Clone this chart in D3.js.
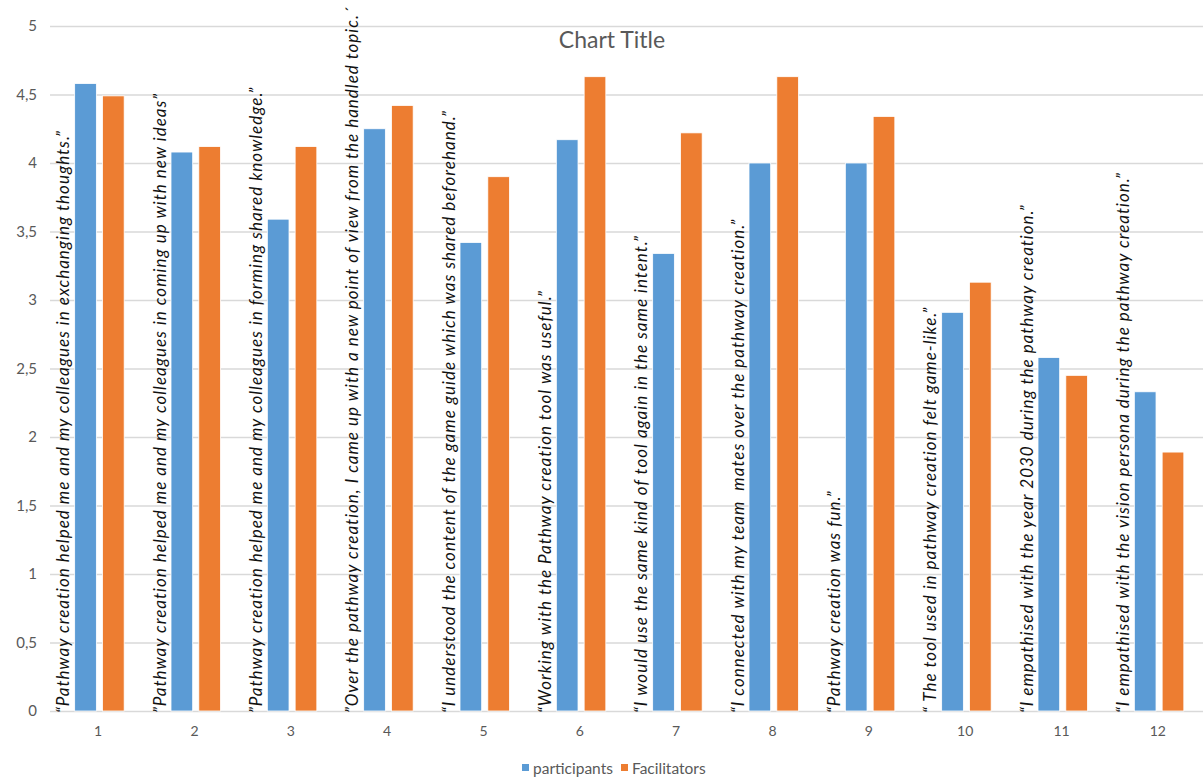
<!DOCTYPE html>
<html><head><meta charset="utf-8">
<script src="https://cdn.jsdelivr.net/npm/d3@7"></script>
<style>
html,body{margin:0;padding:0;background:#fff;}
svg{display:block;}
</style>
</head><body>
<svg id="chart" width="1203" height="778"></svg>
<script>
const categories = ["1","2","3","4","5","6","7","8","9","10","11","12"];
const statements = [
  "\u201CPathway creation helped me and my colleagues in exchanging thoughts.\u201D",
  "\u201DPathway creation helped me and my colleagues in coming up with new ideas\u201D",
  "\u201DPathway creation helped me and my colleagues in forming shared knowledge.\u201D",
  "\u201DOver the pathway creation, I came up with a new point of view from the handled topic.\u00B4",
  "\u201CI understood the content of the game guide which was shared beforehand.\u201D",
  "\u201CWorking with the Pathway creation tool was useful.\u201D",
  "\u201CI would use the same kind of tool again in the same intent.\u201D",
  "\u201CI connected with my team  mates over the pathway creation.\u201D",
  "\u201CPathway creation was fun.\u201D",
  "\u201C The tool used in pathway creation felt game-like.\u201D",
  "\u201CI empathised with the year 2030 during the pathway creation.\u201D",
  "\u201CI empathised with the vision persona during the pathway creation.\u201D"
];
const seriesNames = ["participants","Facilitators"];
const participants = [4.58,4.08,3.59,4.25,3.42,4.17,3.34,4.00,4.00,2.91,2.58,2.33];
const facilitators = [4.49,4.12,4.12,4.42,3.90,4.63,4.22,4.63,4.34,3.13,2.45,1.89];
const yTicks = [0,0.5,1,1.5,2,2.5,3,3.5,4,4.5,5];
const colors = ["#5B9BD5","#ED7D31"];

const svg = d3.select("#chart");
const mLeft = 50, mRight = 1206, mTop = 26, mBottom = 711;
const uiFont = "Lato, 'Open Sans', sans-serif";

const x0 = d3.scaleBand().domain(categories).range([mLeft, mRight]).padding(0);
const bw = x0.bandwidth();
const x1 = d3.scaleBand().domain(seriesNames).range([bw/2 - 23.5, bw/2 + 26]).paddingInner(0.22).paddingOuter(0);
const y = d3.scaleLinear().domain([0,5]).range([mBottom, mTop]);

// gridlines
const yAxis = d3.axisLeft(y).tickValues(yTicks).tickSize(-(1203-mLeft)).tickPadding(13)
  .tickFormat(d => String(d).replace(".", ","));
const gy = svg.append("g").attr("transform", `translate(${mLeft},0)`).call(yAxis);
gy.select(".domain").remove();
gy.selectAll(".tick line").attr("stroke","#D9D9D9").attr("stroke-width",1.6);
gy.selectAll(".tick text").attr("fill","#595959").style("font-family",uiFont).style("font-size","15px");

// x axis labels
const xAxis = d3.axisBottom(x0).tickSize(0).tickPadding(15);
const gx = svg.append("g").attr("transform", `translate(0,${mBottom})`).call(xAxis);
gx.select(".domain").remove();
gx.selectAll(".tick text").attr("fill","#595959").style("font-family",uiFont).style("font-size","14px");

// data rows
const rows = categories.map((c,i) => ({cat:c, vals:[participants[i], facilitators[i]]}));

const groups = svg.append("g").selectAll("g").data(rows).join("g")
  .attr("transform", d => `translate(${x0(d.cat)},0)`);
groups.selectAll("rect").data(d => d.vals.map((v,j) => ({s:seriesNames[j], v, j})))
  .join("rect")
  .attr("x", d => x1(d.s))
  .attr("width", x1.bandwidth())
  .attr("y", d => y(d.v))
  .attr("height", d => y(0) - y(d.v))
  .attr("fill", d => colors[d.j])
  .attr("stroke", "#fff").attr("stroke-width", 0.8);

// rotated statements
svg.append("g").selectAll("text").data(categories).join("text")
  .attr("transform", (d,i) => `translate(${x0(d) + bw/2 - 29},${mBottom + 2}) rotate(-90)`)
  .attr("text-anchor","start")
  .style("font-family","Lato, 'Open Sans', sans-serif")
  .style("font-style","italic")
  .style("font-size","17px")
  .style("letter-spacing","1px")
  .attr("fill","#111")
  .style("white-space","pre")
  .text((d,i) => statements[i]);

// title
svg.append("text").attr("x", 612).attr("y", 48).attr("text-anchor","middle")
  .style("font-family",uiFont).style("font-size","23px")
  .attr("fill","#595959").text("Chart Title");

// legend
const legend = svg.append("g").attr("transform","translate(522,763)");
const lx = [0, 99];
seriesNames.forEach((s,i) => {
  legend.append("rect").attr("x", lx[i]).attr("y", 1).attr("width", 7).attr("height", 7).attr("fill", colors[i]);
  legend.append("text").attr("x", lx[i] + 11).attr("y", 10.5)
    .style("font-family",uiFont).style("font-size","15.5px")
    .attr("fill","#595959").text(s);
});
</script>
</body></html>
